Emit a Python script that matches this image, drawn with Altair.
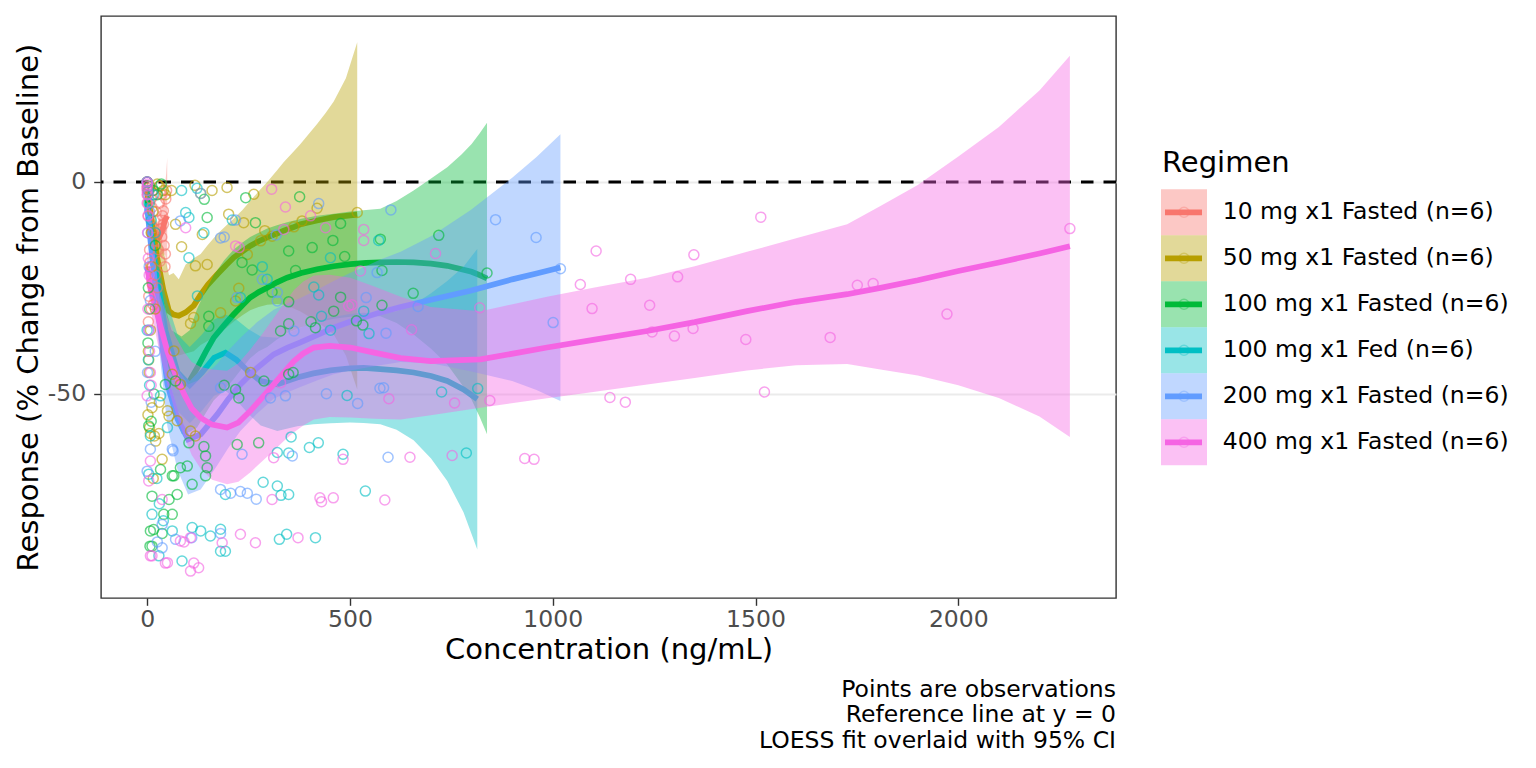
import altair as alt
import pandas as pd

regimens = ["10 mg x1 Fasted (n=6)", "50 mg x1 Fasted (n=6)", "100 mg x1 Fasted (n=6)",
            "100 mg x1 Fed (n=6)", "200 mg x1 Fasted (n=6)", "400 mg x1 Fasted (n=6)"]
colors = ["#F8766D", "#B79F00", "#00BA38", "#00BFC4", "#619CFF", "#F564E3"]
x_ticks = [0, 500, 1000, 1500, 2000]
y_ticks = [0, -50]
caption = ["Points are observations\u00a0", "Reference line at y = 0\u00a0", "LOESS fit overlaid with 95% CI"]

# ---------------- LOESS fits (x, fit, lower, upper) ----------------
fit10_x = [0, 5, 10, 15, 20, 25, 30, 35, 40, 44, 47, 49.5]
fit10_y = [-3, -6, -9, -11.5, -13, -13.5, -13, -12, -10.5, -9, -8.5, -8]
fit10_lo = [-6, -9, -12, -15, -17, -17.5, -17.5, -17.5, -17.5, -17, -19, -21.7]
fit10_hi = [0, -3, -6, -8, -9, -9.5, -8.5, -6.5, -3.5, -1, 2, 5.7]

fit50_x = [0, 12, 25, 40, 54, 65, 78, 95, 115, 132, 150, 173, 195, 213, 235, 254, 275, 296, 320, 337, 360, 378, 400, 419, 440, 460, 490, 518]
fit50_y = [-2, -10, -18, -25.5, -30.5, -31.3, -31.6, -30.8, -29.2, -26.6, -24.2, -21.8, -19.6, -17.9, -16.4, -15.1, -14, -13.1, -12.2, -11.5, -10.7, -10, -9.5, -9.1, -8.7, -8.3, -8, -7.7]
fit50_lo = [-4.5, -15.5, -26, -35, -40, -40.5, -41, -40.5, -40, -38.5, -37.5, -36, -34.5, -33, -31.5, -30.3, -29.5, -29, -28.8, -29, -29.8, -30.6, -31.8, -33, -34.5, -36, -41, -49]
fit50_hi = [0.5, -4.5, -10, -16, -22, -21.5, -23, -19.5, -18, -17, -14.8, -12.3, -10.3, -8.7, -6.6, -4.5, -2.2, 0, 2.7, 4.7, 7.1, 9, 11.5, 13.7, 16.3, 19, 24.5, 33]

fit100_x = [0, 15, 35, 60, 85, 105, 123, 145, 164, 190, 213, 235, 254, 275, 296, 320, 345, 380, 419, 460, 501, 540, 575, 615, 657, 700, 740, 775, 800, 820, 838]
fit100_y = [-4, -18, -33, -44, -48, -47, -44, -40, -36.8, -33.8, -31.3, -29.1, -27.3, -26, -25, -23.7, -22.6, -21.5, -20.6, -19.9, -19.4, -19.1, -19, -18.9, -19, -19.3, -19.8, -20.6, -21.2, -22, -22.8]
fit100_lo = [-7, -23, -40, -53, -59.5, -59, -58, -54.5, -51.6, -49.1, -46.6, -43.9, -41.6, -40, -39, -37.2, -35.7, -34.3, -33.2, -32.3, -31.8, -31.6, -31.7, -33.3, -36, -39.4, -43.1, -47.7, -51.4, -55.5, -59.6]
fit100_hi = [-1, -13, -26, -35, -36.5, -35, -30, -25.5, -22, -18.5, -16, -14.3, -13, -12, -11, -10.2, -9.5, -8.7, -8, -7.5, -7, -6.6, -6.3, -4.5, -2, 0.8, 3.5, 6.5, 9, 11.5, 14]

fitfed_x = [0, 20, 45, 75, 105, 135, 165, 193, 220, 250, 280, 321, 370, 410, 452, 500, 534, 575, 615, 657, 700, 740, 780, 814]
fitfed_y = [-5, -20, -35, -45, -48, -45, -41.5, -40.3, -42, -44.8, -47, -47.8, -46.2, -45.2, -44.5, -44, -43.9, -44.2, -44.5, -45, -45.8, -47, -49, -51.3]
fitfed_lo = [-8, -25, -43, -54, -57, -54, -50.5, -49.3, -51.5, -54.8, -57.5, -58.8, -57.7, -57.2, -57, -56.8, -56.9, -57.2, -58.5, -61, -65.3, -70.6, -78, -86.8]
fitfed_hi = [-2, -15, -27, -36, -39, -36, -32.5, -31.3, -32.5, -34.8, -36.5, -36.8, -34.7, -33.2, -32, -31.2, -30.9, -31.2, -30.5, -29, -26.3, -23.4, -20, -15.8]

fit200_x = [0, 20, 50, 75, 101, 132, 173, 200, 230, 270, 312, 345, 378, 420, 460, 500, 542, 575, 625, 700, 797, 900, 960, 1019]
fit200_y = [-6, -25, -47.8, -56, -60.8, -59.6, -54.9, -51.3, -47.8, -44, -40.7, -39.2, -37.9, -36.1, -34.4, -33, -31.8, -30.8, -29.5, -27.8, -25.7, -23, -21.6, -20.2]
fit200_lo = [-9, -31, -57.8, -68, -73.8, -72.6, -66.9, -62.8, -58.8, -54.8, -51.2, -49.7, -48.4, -46.8, -45.4, -44.5, -43.8, -43.3, -42.5, -42.8, -44.7, -47, -49.1, -51.7]
fit200_hi = [-3, -19, -37.8, -44, -47.8, -46.6, -42.9, -39.8, -36.8, -33.2, -30.2, -28.7, -27.4, -25.4, -23.4, -21.5, -19.8, -18.3, -16.5, -12.8, -6.7, 1, 5.9, 11.3]

fit400_x = [0, 8, 30, 50, 70, 91, 110, 132, 160, 197, 225, 254, 283, 312, 337, 362, 385, 411, 450, 501, 560, 625, 699, 822, 986, 1100, 1233, 1350, 1479, 1600, 1726, 1808, 1900, 2000, 2100, 2200, 2275]
fit400_y = [-20, -25, -33, -40, -45.5, -50.1, -53.5, -55.7, -57.3, -58, -56.8, -54.1, -51, -47.8, -45, -42.3, -40.5, -39.1, -38.7, -39.1, -40.3, -41.6, -42.3, -41.9, -39.1, -37.3, -35.2, -33.1, -30.5, -28.3, -26.5, -25, -23.2, -21, -19, -16.9, -15.2]
fit400_lo = [-24, -30, -40, -48, -54.5, -60.1, -64.5, -67.7, -70.3, -71.4, -70.8, -68.6, -66, -63.5, -61.2, -59.1, -57.5, -56.1, -55.5, -55.6, -55.9, -56.1, -55.1, -53.3, -51.1, -49.6, -47.8, -46.3, -44.5, -43.3, -43, -44.3, -45.7, -48, -51, -55.4, -60.2]
fit400_hi = [-16, -20, -26, -32, -36.5, -40.1, -42.5, -43.7, -44.3, -44.6, -42.8, -39.6, -36, -32.1, -28.8, -25.5, -23.5, -22.1, -21.9, -22.6, -24.7, -27.1, -29.5, -30.5, -27.1, -25, -22.6, -19.9, -16.5, -13.3, -10, -5.7, -0.7, 6, 13, 21.6, 29.8]

# ---------------- observations (concentration, response) ----------------
pts10 = [(0, 0), (0, -1.5), (1, -3), (2, -5), (3, -8), (5, -2), (6, -16), (7, -19), (8, -1), (9, -20),
         (10, -4), (11, -12), (12, -6), (12, -24), (14, -2), (15, -29), (16, -10.8), (18, -3), (20, -12),
         (20, -22), (22, -7), (24, -14), (25, -25), (26, -9), (28, -16), (30, -5), (30, -1), (32, -18.7),
         (34, -11), (35, -3), (36, -13), (38, -8), (40, -6.8), (40, -10), (42, -15), (44, -20), (45, -17),
         (46, -4), (48, -2), (4, -27), (3, -33), (10, -30)]
pts50 = [(0, 0), (1, -1), (2, -2), (3, -40), (4, -42), (5, -45), (2, -55), (6, -58), (8, -59.4), (10, -12),
         (12, -53.3), (14, -7), (18, -60), (21, -61.2), (29, -59.4), (37, -65.5), (15, -70), (25, -0.5),
         (30, -1), (40, -2), (45, -3), (50, -54), (54, -55.3), (74, -56.4), (66, -39.9), (62, -45.4),
         (82, -47.8), (107, -58.8), (119, -60), (85, -15.3), (118, -0.8), (160, -2), (197, -1.3), (132, -2.7),
         (263, -2.9), (419, -6.2), (382, -9.2), (518, -7.2), (362, -10.6), (201, -7.6), (238, -9.6),
         (136, -12.4), (119, -19.8), (148, -19.5), (247, -17.1), (280, -13.9), (308, -12.8), (290, -11.5),
         (226, -25.1), (218, -28.1), (181, -30.9), (107, -33.4), (115, -32), (255, -45), (12, -20),
         (20, -30), (8, -35), (30, -52), (60, -2), (70, -10)]
pts100 = [(141, -4.1), (243, -3.7), (376, -3.5), (477, -9.8), (267, -9.6), (148, -8.4), (234, -19),
          (349, -16.3), (407, -15.5), (458, -13.8), (487, -17.6), (259, -20.8), (349, -28.3), (308, -26),
          (366, -20.9), (477, -27.2), (516, -32.8), (532, -33.8), (415, -34.4), (404, -33), (460, -30.5),
          (329, -35.2), (349, -33.5), (152, -31.7), (152, -34.1), (45, -47.8), (70, -47), (288, -47),
          (190, -48), (218, -49), (226, -51), (349, -45.4), (360, -45), (103, -61.6), (140, -62.5),
          (144, -64.7), (148, -67.5), (144, -69.4), (111, -71.4), (99, -67.1), (82, -67.5), (66, -69.4),
          (222, -62), (275, -61.6), (8, -82.4), (7, -86), (17, -50.1), (10, -56.5), (4, -57.6), (33, -67.9),
          (62, -69.4), (12, -74.2), (54, -75), (74, -73.8), (41, -78.5), (62, -78.5), (16, -82.1), (37, -83),
          (12, -86), (575, -13.5), (719, -12.6), (579, -20.9), (838, -21.5), (656, -26.3), (579, -29.1),
          (0, 0), (5, -1), (15, -2), (25, -3), (35, -0.5), (3, -25), (6, -30), (2, -38), (20, -15)]
ptsfed = [(85, -2), (123, -1.5), (95, -7.2), (103, -8.4), (140, -12), (210, -9), (103, -17.9), (124, -26.9),
          (230, -27.3), (284, -20), (296, -23), (452, -17.9), (411, -24.8), (423, -26.7), (571, -13.8),
          (534, -30.5), (547, -35.8), (452, -35), (430, -31.7), (493, -50.4), (321, -63.9), (349, -64),
          (355, -60.2), (400, -62.7), (422, -61.6), (483, -64.3), (193, -73.8), (286, -70.9), (321, -71.8),
          (330, -74), (349, -73.8), (538, -73), (111, -81.6), (132, -82.4), (156, -83.6), (181, -82),
          (181, -87.2), (193, -87.2), (326, -84.4), (344, -83.2), (415, -84), (86, -89.5), (29, -88.3),
          (62, -82.4), (33, -50.5), (50, -58), (12, -78.5), (726, -49.6), (815, -48.8), (787, -64), (0, 0),
          (2, -2), (5, -5), (10, -9), (15, -3), (20, -12), (0, -35), (3, -42), (6, -48), (8, -60), (4, -69),
          (24, -70), (30, -76), (40, -80)]
pts200 = [(132, -2.7), (423, -5.1), (218, -9), (82, -9.2), (181, -13.2), (190, -13), (318, -12.5), (284, -23),
          (222, -27.3), (321, -26.1), (321, -28.1), (567, -21.4), (540, -27.3), (362, -35.2), (181, -48.6),
          (304, -51), (341, -50.5), (442, -50), (519, -52.3), (574, -48.7), (64, -63.5), (234, -64.3),
          (358, -64.7), (181, -72.6), (206, -73.5), (230, -73.1), (247, -73.5), (269, -74.9), (181, -83),
          (37, -86.4), (70, -84.4), (25, -85), (8, -63.1), (62, -63.1), (0, -68.3), (37, -80.9), (110, -84),
          (601, -6.6), (859, -8.9), (959, -13.1), (1019, -20.5), (668, -29.4), (589, -35.7), (1001, -33.2),
          (583, -48.6), (594, -65), (0, 0), (3, -3), (6, -7), (2, -12), (5, -20), (8, -28), (4, -35),
          (1, -45), (10, -52), (20, -40)]
pts400 = [(307, -1.7), (341, -5.9), (403, -8), (440, -10.8), (337, -11.2), (95, -10.8), (218, -15.1),
          (227, -15.5), (534, -11.2), (534, -13.8), (526, -21), (497, -29.3), (505, -29), (329, -47.4),
          (312, -65.1), (483, -65.5), (308, -75), (426, -74.6), (430, -75.5), (459, -74.6), (586, -75.1),
          (185, -85.2), (230, -83.2), (267, -85.2), (372, -84), (82, -84.8), (91, -85), (107, -84),
          (107, -91.9), (127, -91.1), (115, -90), (50, -89.9), (8, -88.3), (0, -50.5), (8, -65.9),
          (4, -70.6), (37, -75), (12, -88.3), (45, -90), (711, -16.9), (820, -29.7), (652, -34.9),
          (1068, -24.2), (1107, -16.3), (1097, -29.9), (1192, -23), (1348, -17.2), (1308, -22.4),
          (1239, -29.1), (1245, -35.4), (1300, -36.4), (1346, -34.6), (1513, -8.3), (1476, -37.2),
          (1684, -36.7), (1751, -24.4), (1790, -24), (1522, -49.6), (1141, -50.9), (1179, -52), (596, -51.2),
          (758, -52.2), (845, -51.6), (648, -65), (752, -64.6), (931, -65.3), (954, -65.5), (1972, -31.2),
          (2275, -11), (0, 0), (0, -1), (0, -2), (0, -3), (1, -0.5), (0, -5), (2, -8), (1, -12), (3, -18),
          (5, -22), (2, -30), (4, -35), (6, -40), (8, -45), (10, -48)]

fits = [(fit10_x, fit10_y, fit10_lo, fit10_hi), (fit50_x, fit50_y, fit50_lo, fit50_hi),
        (fit100_x, fit100_y, fit100_lo, fit100_hi), (fitfed_x, fitfed_y, fitfed_lo, fitfed_hi),
        (fit200_x, fit200_y, fit200_lo, fit200_hi), (fit400_x, fit400_y, fit400_lo, fit400_hi)]
pts = [pts10, pts50, pts100, ptsfed, pts200, pts400]

fit_rows, pt_rows = [], []
for r, (fx, fy, flo, fhi) in zip(regimens, fits):
    for a, b, c, d in zip(fx, fy, flo, fhi):
        fit_rows.append({"Regimen": r, "Concentration": a, "Response": b, "lo": c, "hi": d})
for r, plist in zip(regimens, pts):
    for a, b in plist:
        pt_rows.append({"Regimen": r, "Concentration": a, "Response": b})
fit_df = pd.DataFrame(fit_rows)
pt_df = pd.DataFrame(pt_rows)

FONT = "DejaVu Sans"
XT = "Concentration (ng/mL)"
YT = "Response (% Change from Baseline)"
xscale = alt.Scale(domain=[-113.75, 2388.75], nice=False, zero=False)
yscale = alt.Scale(domain=[-98.25, 39.2], nice=False, zero=False)
xaxis = alt.Axis(values=x_ticks, format="d", grid=False, title=XT, labelPadding=2, titlePadding=5)
yaxis = alt.Axis(values=y_ticks, grid=True, gridColor="#EBEBEB", gridWidth=1.8, title=YT,
                 labelPadding=8, titlePadding=4,
                 labelExpr="datum.value < 0 ? '-' + format(-datum.value, 'd') : format(datum.value, 'd')")
color = alt.Color("Regimen:N", scale=alt.Scale(domain=regimens, range=colors), legend=None)

def X(f="Concentration"):
    return alt.X(f"{f}:Q", scale=xscale, axis=xaxis, title=XT)

def Y(f="Response"):
    return alt.Y(f"{f}:Q", scale=yscale, axis=yaxis, title=YT)

ref = alt.Chart(pd.DataFrame({"Response": [0]})).mark_rule(
    color="black", strokeWidth=2.8, strokeDash=[12.5, 10]).encode(y=Y())

layers = [ref]
base_fit = alt.Chart(fit_df)
for r in regimens:
    f = base_fit.transform_filter(alt.datum.Regimen == r)
    layers.append(f.mark_area(opacity=0.4, clip=True).encode(
        x=X(), y=Y("lo"), y2="hi:Q", color=color))
    layers.append(f.mark_line(strokeWidth=5.7, clip=True).encode(
        x=X(), y=Y(), color=color))
layers.append(alt.Chart(pt_df).mark_point(filled=False, size=100, strokeWidth=1.5, opacity=0.6).encode(
    x=X(), y=Y(), color=color))

main = alt.layer(*layers).properties(
    width=1015, height=582,
    view=alt.ViewBackground(stroke="#333333", strokeWidth=1.4),
    title=alt.TitleParams(text=caption, orient="bottom", anchor="end", frame="group",
                          fontSize=23.5, font=FONT, fontWeight="normal", color="black",
                          lineHeight=25.5, offset=13),
)

# ---------------- legend panel ----------------
leg_df = pd.DataFrame({"Regimen": regimens})
ly = alt.Y("Regimen:N", sort=regimens, axis=None,
           scale=alt.Scale(domain=regimens, range=[173.3, 449.3], paddingInner=0, paddingOuter=0))
lyc = alt.Y("Regimen:N", sort=regimens, axis=None, bandPosition=0.5,
            scale=alt.Scale(domain=regimens, range=[173.3, 449.3], paddingInner=0, paddingOuter=0))
lcolor = alt.Color("Regimen:N", scale=alt.Scale(domain=regimens, range=colors), legend=None)
lb = alt.Chart(leg_df)
keys = lb.mark_rect(opacity=0.4).encode(y=ly, x=alt.value(0), x2=alt.value(46), color=lcolor)
klines = lb.mark_rule(strokeWidth=5.7).encode(y=lyc, x=alt.value(4), x2=alt.value(41), color=lcolor)
kpts = lb.mark_point(filled=False, size=100, strokeWidth=1.5, opacity=0.35).encode(
    y=lyc, x=alt.value(23), color=lcolor)
klabels = lb.mark_text(align="left", baseline="middle", fontSize=23.5, font=FONT, color="black").encode(
    y=lyc, x=alt.value(61.7), text="Regimen:N")
ltitle = alt.Chart(pd.DataFrame({"t": ["Regimen"]})).mark_text(
    align="left", baseline="middle", fontSize=29, font=FONT, color="black").encode(
    text="t:N", x=alt.value(1), y=alt.value(146.7))
legend = alt.layer(keys, klines, kpts, klabels, ltitle).properties(
    width=350, height=582, view=alt.ViewBackground(strokeOpacity=0))

chart = alt.hconcat(main, legend, spacing=42).properties(
    padding={"left": 5, "top": 7, "right": 5, "bottom": 5}, background="white"
).configure_axis(
    labelFont=FONT, titleFont=FONT, labelFontSize=23.5, titleFontSize=29, labelColor="#4D4D4D",
    titleColor="black", titleFontWeight="normal", tickColor="#333333", tickSize=7.3, tickWidth=1.4,
    domain=False
).configure_view(strokeWidth=0)

chart.save("out.html", embed_options={"renderer": "svg", "actions": False})
